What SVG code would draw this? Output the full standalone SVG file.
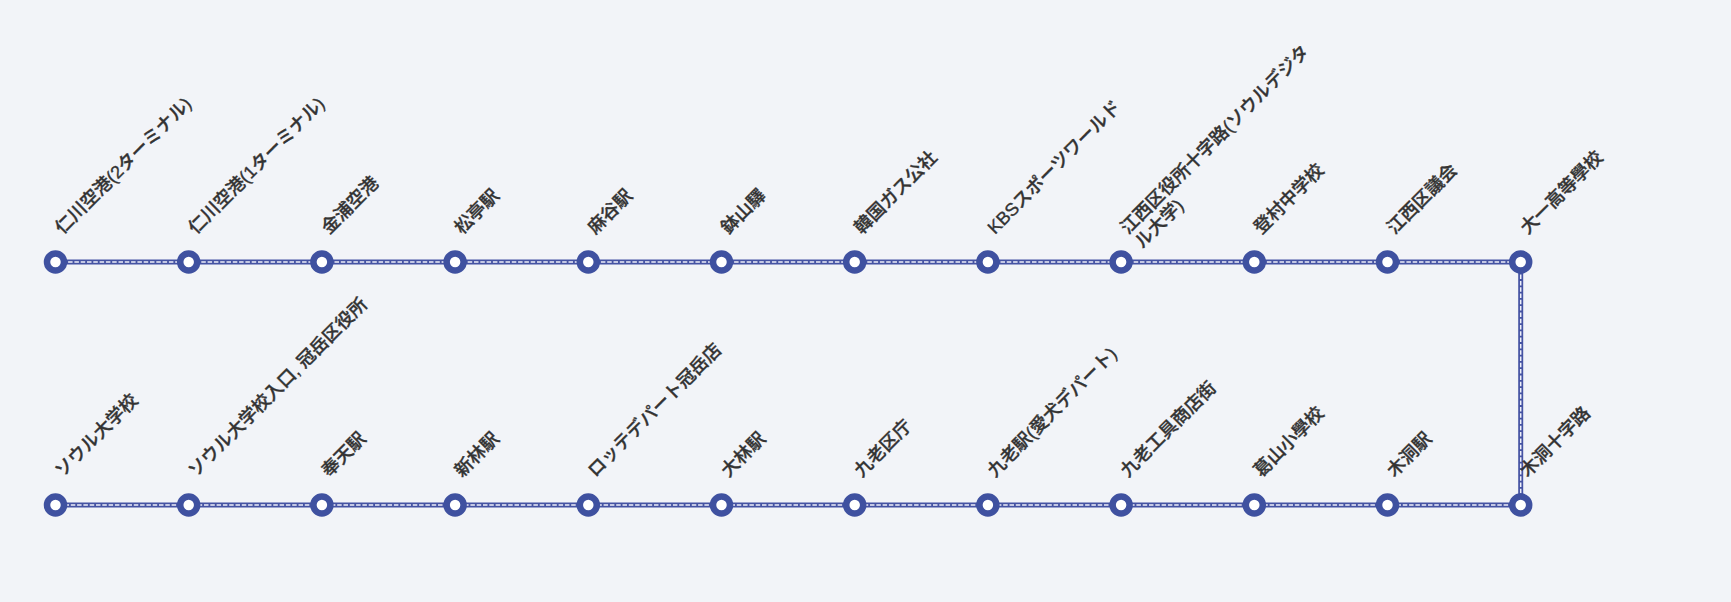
<svg xmlns="http://www.w3.org/2000/svg" width="1731" height="602" viewBox="0 0 1731 602">
<style>
.bg{fill:#f2f4f8}
.e{stroke:#4553a3;stroke-width:5;fill:none}
.ed{stroke:#eef0fa;stroke-width:1.5;stroke-dasharray:4.5 1.8;fill:none}
.n{fill:#ffffff;stroke:#3f51a0;stroke-width:6.5}
.t{font-family:"Liberation Sans","Noto Sans CJK JP",sans-serif;font-size:18px;font-weight:500;fill:#333333;stroke:#333333;stroke-width:0.35}
</style>
<rect class="bg" x="0" y="0" width="1731" height="602"/>
<g id="connectors">
<g class="e">
<line x1="55.5" y1="262" x2="188.7" y2="262"/>
<line x1="188.7" y1="262" x2="321.9" y2="262"/>
<line x1="321.9" y1="262" x2="455.1" y2="262"/>
<line x1="455.1" y1="262" x2="588.3" y2="262"/>
<line x1="588.3" y1="262" x2="721.5" y2="262"/>
<line x1="721.5" y1="262" x2="854.7" y2="262"/>
<line x1="854.7" y1="262" x2="987.9" y2="262"/>
<line x1="987.9" y1="262" x2="1121.1" y2="262"/>
<line x1="1121.1" y1="262" x2="1254.3" y2="262"/>
<line x1="1254.3" y1="262" x2="1387.5" y2="262"/>
<line x1="1387.5" y1="262" x2="1520.7" y2="262"/>
<line x1="1520.7" y1="262" x2="1520.7" y2="505"/>
<line x1="1520.7" y1="505" x2="1387.5" y2="505"/>
<line x1="1387.5" y1="505" x2="1254.3" y2="505"/>
<line x1="1254.3" y1="505" x2="1121.1" y2="505"/>
<line x1="1121.1" y1="505" x2="987.9" y2="505"/>
<line x1="987.9" y1="505" x2="854.7" y2="505"/>
<line x1="854.7" y1="505" x2="721.5" y2="505"/>
<line x1="721.5" y1="505" x2="588.3" y2="505"/>
<line x1="588.3" y1="505" x2="455.1" y2="505"/>
<line x1="455.1" y1="505" x2="321.9" y2="505"/>
<line x1="321.9" y1="505" x2="188.7" y2="505"/>
<line x1="188.7" y1="505" x2="55.5" y2="505"/>
</g>
<g class="ed">
<line x1="55.5" y1="262" x2="188.7" y2="262"/>
<line x1="188.7" y1="262" x2="321.9" y2="262"/>
<line x1="321.9" y1="262" x2="455.1" y2="262"/>
<line x1="455.1" y1="262" x2="588.3" y2="262"/>
<line x1="588.3" y1="262" x2="721.5" y2="262"/>
<line x1="721.5" y1="262" x2="854.7" y2="262"/>
<line x1="854.7" y1="262" x2="987.9" y2="262"/>
<line x1="987.9" y1="262" x2="1121.1" y2="262"/>
<line x1="1121.1" y1="262" x2="1254.3" y2="262"/>
<line x1="1254.3" y1="262" x2="1387.5" y2="262"/>
<line x1="1387.5" y1="262" x2="1520.7" y2="262"/>
<line x1="1520.7" y1="262" x2="1520.7" y2="505"/>
<line x1="1520.7" y1="505" x2="1387.5" y2="505"/>
<line x1="1387.5" y1="505" x2="1254.3" y2="505"/>
<line x1="1254.3" y1="505" x2="1121.1" y2="505"/>
<line x1="1121.1" y1="505" x2="987.9" y2="505"/>
<line x1="987.9" y1="505" x2="854.7" y2="505"/>
<line x1="854.7" y1="505" x2="721.5" y2="505"/>
<line x1="721.5" y1="505" x2="588.3" y2="505"/>
<line x1="588.3" y1="505" x2="455.1" y2="505"/>
<line x1="455.1" y1="505" x2="321.9" y2="505"/>
<line x1="321.9" y1="505" x2="188.7" y2="505"/>
<line x1="188.7" y1="505" x2="55.5" y2="505"/>
</g>
</g>
<g id="s1"><circle class="n" cx="55.5" cy="262" r="8.5"/><text class="t" transform="translate(62.5 235) rotate(-45)">仁川空港(2ターミナル)</text></g>
<g id="s2"><circle class="n" cx="188.7" cy="262" r="8.5"/><text class="t" transform="translate(195.7 235) rotate(-45)">仁川空港(1ターミナル)</text></g>
<g id="s3"><circle class="n" cx="321.9" cy="262" r="8.5"/><text class="t" transform="translate(328.9 235) rotate(-45)">金浦空港</text></g>
<g id="s4"><circle class="n" cx="455.1" cy="262" r="8.5"/><text class="t" transform="translate(462.1 235) rotate(-45)">松亭駅</text></g>
<g id="s5"><circle class="n" cx="588.3" cy="262" r="8.5"/><text class="t" transform="translate(595.3 235) rotate(-45)">麻谷駅</text></g>
<g id="s6"><circle class="n" cx="721.5" cy="262" r="8.5"/><text class="t" transform="translate(728.5 235) rotate(-45)">鉢山驛</text></g>
<g id="s7"><circle class="n" cx="854.7" cy="262" r="8.5"/><text class="t" transform="translate(861.7 235) rotate(-45)">韓国ガス公社</text></g>
<g id="s8"><circle class="n" cx="987.9" cy="262" r="8.5"/><text class="t" transform="translate(994.9 235) rotate(-45)">KBSスポーツワールド</text></g>
<g id="s9"><circle class="n" cx="1121.1" cy="262" r="8.5"/><text class="t" transform="translate(1128.1 235) rotate(-45)"><tspan x="0" y="0">江西区役所十字路(ソウルデジタ</tspan><tspan x="0" y="20">ル大学)</tspan></text></g>
<g id="s10"><circle class="n" cx="1254.3" cy="262" r="8.5"/><text class="t" transform="translate(1261.3 235) rotate(-45)">登村中学校</text></g>
<g id="s11"><circle class="n" cx="1387.5" cy="262" r="8.5"/><text class="t" transform="translate(1394.5 235) rotate(-45)">江西区議会</text></g>
<g id="s12"><circle class="n" cx="1520.7" cy="262" r="8.5"/><text class="t" transform="translate(1527.7 235) rotate(-45)">大一高等學校</text></g>
<g id="s13"><circle class="n" cx="1520.7" cy="505" r="8.5"/><text class="t" transform="translate(1527.7 478) rotate(-45)">木洞十字路</text></g>
<g id="s14"><circle class="n" cx="1387.5" cy="505" r="8.5"/><text class="t" transform="translate(1394.5 478) rotate(-45)">木洞駅</text></g>
<g id="s15"><circle class="n" cx="1254.3" cy="505" r="8.5"/><text class="t" transform="translate(1261.3 478) rotate(-45)">葛山小學校</text></g>
<g id="s16"><circle class="n" cx="1121.1" cy="505" r="8.5"/><text class="t" transform="translate(1128.1 478) rotate(-45)">九老工具商店街</text></g>
<g id="s17"><circle class="n" cx="987.9" cy="505" r="8.5"/><text class="t" transform="translate(994.9 478) rotate(-45)">九老駅(愛犬デパート)</text></g>
<g id="s18"><circle class="n" cx="854.7" cy="505" r="8.5"/><text class="t" transform="translate(861.7 478) rotate(-45)">九老区庁</text></g>
<g id="s19"><circle class="n" cx="721.5" cy="505" r="8.5"/><text class="t" transform="translate(728.5 478) rotate(-45)">大林駅</text></g>
<g id="s20"><circle class="n" cx="588.3" cy="505" r="8.5"/><text class="t" transform="translate(595.3 478) rotate(-45)">ロッテデパート冠岳店</text></g>
<g id="s21"><circle class="n" cx="455.1" cy="505" r="8.5"/><text class="t" transform="translate(462.1 478) rotate(-45)">新林駅</text></g>
<g id="s22"><circle class="n" cx="321.9" cy="505" r="8.5"/><text class="t" transform="translate(328.9 478) rotate(-45)">奉天駅</text></g>
<g id="s23"><circle class="n" cx="188.7" cy="505" r="8.5"/><text class="t" transform="translate(195.7 478) rotate(-45)">ソウル大学校入口, 冠岳区役所</text></g>
<g id="s24"><circle class="n" cx="55.5" cy="505" r="8.5"/><text class="t" transform="translate(62.5 478) rotate(-45)">ソウル大学校</text></g>
</svg>
